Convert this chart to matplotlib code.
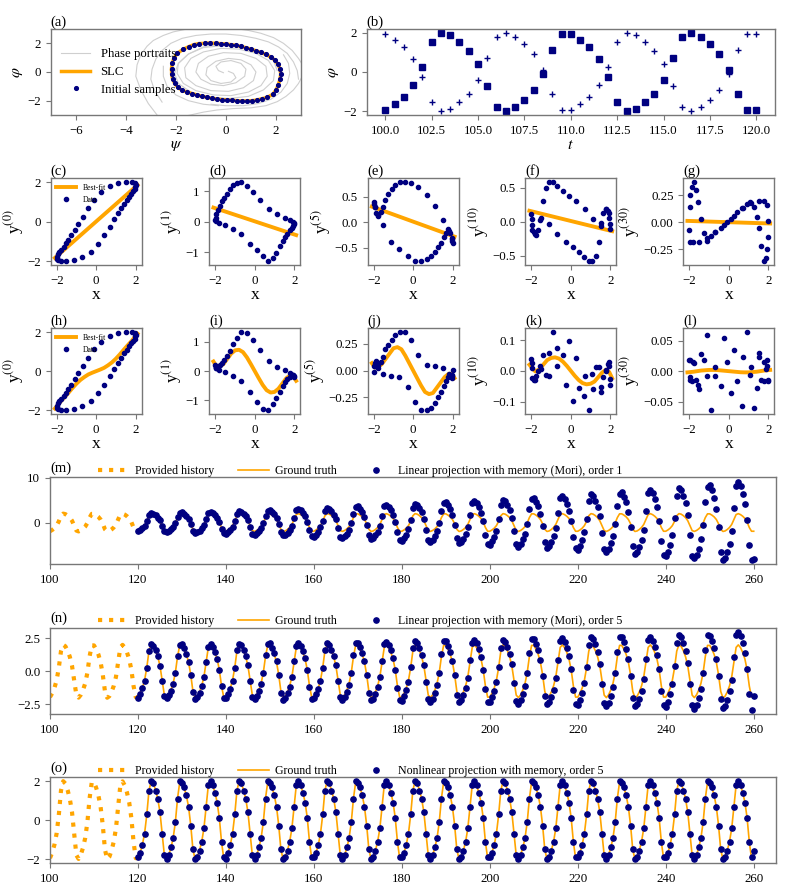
import numpy as np
import matplotlib
matplotlib.use("Agg")
import matplotlib.pyplot as plt

plt.rcParams["font.family"] = ["Liberation Serif", "DejaVu Serif"]
plt.rcParams["mathtext.fontset"] = "stix"
plt.rcParams["axes.edgecolor"] = "#777777"
plt.rcParams["axes.linewidth"] = 1.0
plt.rcParams["xtick.color"] = "#777777"
plt.rcParams["ytick.color"] = "#777777"
plt.rcParams["xtick.labelcolor"] = "black"
plt.rcParams["ytick.labelcolor"] = "black"
plt.rcParams["xtick.labelsize"] = 9.3
plt.rcParams["ytick.labelsize"] = 9.3

NAVY = "#000080"
ORANGE = "#FFA500"
GREY = "#cfcfcf"

# ---------------- (a) phase plane ----------------
slc_psi = [-2.17, -2.15, -2.08, -1.95, -1.71, -1.48, -1.28, -1.08, -0.85, -0.64, -0.41, -0.21, 0.00,
           0.19, 0.39, 0.59, 0.79, 0.99, 1.19, 1.39, 1.59, 1.79, 1.95, 2.08, 2.16, 2.19, 2.16, 2.09,
           2.00, 1.87, 1.65, 1.45, 1.25, 1.05, 0.85, 0.65, 0.45, 0.25, 0.05, -0.15, -0.35, -0.55,
           -0.75, -0.95, -1.15, -1.35, -1.55, -1.75, -1.92, -2.05, -2.13, -2.17]
slc_phi = [0.21, 0.60, 0.95, 1.30, 1.58, 1.77, 1.91, 1.98, 2.00, 2.02, 2.00, 1.98, 1.95, 1.91, 1.86,
           1.79, 1.70, 1.60, 1.49, 1.37, 1.23, 1.05, 0.84, 0.53, 0.21, -0.14, -0.51, -0.91, -1.26,
           -1.56, -1.77, -1.86, -1.95, -2.00, -2.02, -2.02, -2.00, -1.98, -1.95, -1.93, -1.88, -1.84,
           -1.77, -1.70, -1.60, -1.51, -1.40, -1.28, -1.07, -0.79, -0.49, -0.14]

pp1_psi = [-2.75, -3.1, -3.4, -3.6, -3.55, -3.4, -3.15, -2.9, -2.5, -2.1, -1.55, -0.9]
pp1_phi = [-3.0, -2.2, -1.25, -0.3, 0.5, 1.2, 1.8, 2.2, 2.55, 2.8, 3.0, 3.1]
pp2_psi = [-2.55, -2.85, -3.0, -2.95, -2.8, -2.55, -2.2, -1.75, -1.2, -0.6, 0.0, 0.6, 1.2, 1.7,
           2.1, 2.45, 2.7, 2.85, 2.9]
pp2_phi = [-2.1, -1.3, -0.5, 0.2, 0.9, 1.5, 2.0, 2.35, 2.55, 2.65, 2.65, 2.55, 2.35, 2.1, 1.75,
           1.3, 0.7, 0.1, -0.5]
pp3_psi = [0.3, 0.9, 1.4, 1.9, 2.3, 2.65, 2.9, 3.1]
pp3_phi = [3.05, 2.9, 2.7, 2.4, 2.0, 1.5, 0.95, 0.4]
pp4_psi = [-1.55, -0.9, -0.35, 0.3, 1.0, 1.6, 2.05, 2.4, 2.7, 2.9, 3.05]
pp4_phi = [-3.05, -2.8, -2.65, -2.55, -2.5, -2.35, -2.07, -1.7, -1.25, -0.8, -0.3]
pp5_psi = [-0.3, -0.9, -1.5, -2.0, -2.35, -2.5, -2.5]
pp5_phi = [-2.35, -2.25, -2.0, -1.6, -1.0, -0.3, 0.4]
pp6_psi = [2.3, 2.5, 2.55, 2.45, 2.2, 1.8, 1.3, 0.7, 0.0, -0.6]
pp6_phi = [1.2, 0.6, -0.1, -0.8, -1.4, -1.9, -2.2, -2.35, -2.35, -2.25]
pp7_psi = [0.1, 0.3, 0.4, 0.2, -0.2, -0.6, -0.8, -0.75, -0.4, 0.1, 0.6, 1.0, 1.2, 1.1, 0.7, 0.1,
           -0.6, -1.2, -1.6, -1.65, -1.4, -0.9, -0.2, 0.5, 1.2, 1.7, 1.95, 1.9, 1.5, 0.9, 0.1,
           -0.7, -1.4, -1.9, -2.05, -1.9, -1.5, -0.9, -0.2]
pp7_phi = [0.05, -0.1, -0.4, -0.7, -0.8, -0.6, -0.2, 0.3, 0.75, 0.95, 0.85, 0.5, 0.0, -0.6, -1.1,
           -1.35, -1.3, -0.95, -0.4, 0.3, 0.95, 1.4, 1.65, 1.6, 1.3, 0.8, 0.1, -0.6, -1.25, -1.7,
           -1.85, -1.75, -1.4, -0.8, -0.1, 0.6, 1.25, 1.75, 1.95]
pp8_psi = [-0.1, -0.3, -0.4, -0.2, 0.2, 0.6, 0.8, 0.75, 0.4, -0.1, -0.6, -1.0, -1.2, -1.1, -0.7,
           -0.1, 0.6, 1.2, 1.6, 1.65, 1.4, 0.9, 0.2, -0.5, -1.2, -1.7, -1.95, -1.9, -1.5, -0.9,
           -0.1, 0.7, 1.4, 1.9, 2.05]
pp8_phi = [-0.05, 0.1, 0.4, 0.7, 0.8, 0.6, 0.2, -0.3, -0.75, -0.95, -0.85, -0.5, 0.0, 0.6, 1.1,
           1.35, 1.3, 0.95, 0.4, -0.3, -0.95, -1.4, -1.65, -1.6, -1.3, -0.8, -0.1, 0.6, 1.25,
           1.7, 1.85, 1.75, 1.4, 0.8, 0.1]
portraits = [(pp1_psi, pp1_phi), (pp2_psi, pp2_phi), (pp3_psi, pp3_phi), (pp4_psi, pp4_phi),
             (pp5_psi, pp5_phi), (pp6_psi, pp6_phi), (pp7_psi, pp7_phi), (pp8_psi, pp8_phi)]

# ---------------- (b) and history ----------------
t_hist = np.arange(100, 120.01, 0.5)
history_phi = [-1.95, -1.66, -1.27, -0.69, 0.26, 1.52, 2.00, 1.88, 1.55, 1.10, 0.42, -0.70, -1.80,
               -1.99, -1.78, -1.42, -0.92, -0.11, 1.12, 1.95, 1.95, 1.66, 1.27, 0.69, -0.26, -1.52,
               -2.00, -1.88, -1.55, -1.10, -0.42, 0.70, 1.80, 1.99, 1.78, 1.42, 0.92, 0.11, -1.12,
               -1.95, -1.95]
phi_plus = [1.95, 1.66, 1.27, 0.69, -0.26, -1.52, -2.00, -1.88, -1.55, -1.10, -0.42, 0.70, 1.80,
            1.99, 1.78, 1.42, 0.92, 0.11, -1.12, -1.95, -1.95, -1.66, -1.27, -0.69, 0.26, 1.52,
            2.00, 1.88, 1.55, 1.10, 0.42, -0.70, -1.80, -1.99, -1.78, -1.42, -0.92, -0.11, 1.12,
            1.95, 1.95]

# ---------------- (c)-(l) projections ----------------
x_samples = [2.00, 1.99, 1.95, 1.88, 1.78, 1.66, 1.55, 1.42, 1.27, 1.10, 0.92, 0.69, 0.42, 0.11,
             -0.26, -0.70, -1.12, -1.52, -1.80, -1.95, -2.00, -1.99, -1.95, -1.88, -1.78, -1.66,
             -1.55, -1.42, -1.27, -1.10, -0.92, -0.69, -0.42, -0.11, 0.26, 0.70, 1.12, 1.52,
             1.80, 1.95]
y0_data = [1.88, 1.78, 1.66, 1.55, 1.42, 1.27, 1.10, 0.92, 0.69, 0.42, 0.11, -0.26, -0.70, -1.12,
           -1.52, -1.80, -1.95, -2.00, -1.99, -1.95, -1.88, -1.78, -1.66, -1.55, -1.42, -1.27,
           -1.10, -0.92, -0.69, -0.42, -0.11, 0.26, 0.70, 1.12, 1.52, 1.80, 1.95, 2.00, 1.99, 1.95]
y1_lin = [-0.03, -0.08, -0.13, -0.20, -0.28, -0.39, -0.50, -0.63, -0.81, -1.01, -1.19, -1.29,
          -1.13, -0.93, -0.72, -0.42, -0.23, -0.10, -0.03, 0.01, 0.05, 0.12, 0.24, 0.37, 0.51,
          0.66, 0.78, 0.91, 1.06, 1.19, 1.27, 1.29, 1.17, 0.98, 0.71, 0.43, 0.25, 0.11, 0.05, -0.01]
y5_lin = [-0.41, -0.36, -0.30, -0.20, -0.12, -0.20, -0.29, -0.40, -0.48, -0.58, -0.66, -0.72,
          -0.75, -0.76, -0.66, -0.52, -0.38, -0.05, 0.15, 0.30, 0.41, 0.36, 0.30, 0.18, 0.13,
          0.20, 0.31, 0.45, 0.55, 0.66, 0.74, 0.79, 0.79, 0.77, 0.69, 0.54, 0.32, 0.05, -0.17, -0.32]
y10_lin = [-0.11, -0.04, 0.05, 0.15, 0.19, 0.12, -0.02, -0.30, -0.50, -0.58, -0.58, -0.52, -0.45,
           -0.38, -0.30, -0.18, -0.04, 0.06, -0.18, -0.12, 0.11, 0.04, -0.05, -0.15, -0.19, -0.12,
           0.02, 0.30, 0.50, 0.58, 0.58, 0.52, 0.45, 0.38, 0.30, 0.18, 0.04, -0.06, 0.18, 0.12]
y30_lin = [0.01, -0.14, -0.25, -0.33, -0.36, -0.22, -0.05, 0.05, 0.14, 0.19, 0.17, 0.13, 0.09,
           0.03, -0.03, -0.09, -0.15, -0.18, -0.18, -0.18, -0.07, 0.14, 0.25, 0.33, 0.37, 0.30,
           0.19, 0.03, -0.10, -0.17, -0.13, -0.09, -0.05, 0.00, 0.06, 0.13, 0.18, 0.20, 0.20, 0.16]
y1_nl = [-0.20, -0.15, -0.12, -0.14, -0.20, -0.28, -0.38, -0.52, -0.70, -0.92, -1.12, -1.33,
         -1.30, -1.05, -0.71, -0.35, -0.15, -0.03, 0.05, 0.12, 0.20, 0.15, 0.12, 0.14, 0.20, 0.28,
         0.38, 0.52, 0.70, 0.92, 1.12, 1.33, 1.30, 1.05, 0.71, 0.35, 0.15, 0.03, -0.05, -0.12]
y5_nl = [0.01, -0.04, -0.07, -0.05, -0.06, -0.10, -0.14, -0.20, -0.25, -0.30, -0.35, -0.37, -0.37,
         -0.29, -0.15, -0.06, -0.05, -0.03, 0.02, 0.04, -0.01, 0.04, 0.07, 0.09, 0.05, 0.08, 0.13,
         0.20, 0.24, 0.29, 0.33, 0.36, 0.36, 0.29, 0.15, 0.05, 0.04, 0.02, -0.03, -0.05]
y10_nl = [-0.045, -0.027, 0.030, 0.022, 0.003, -0.020, -0.052, 0.012, 0.011, -0.010, -0.128,
          -0.082, -0.056, -0.098, -0.045, 0.016, -0.016, 0.005, -0.030, 0.010, 0.040, 0.025,
          -0.024, -0.029, -0.018, -0.002, 0.016, 0.051, -0.013, 0.057, 0.126, 0.075, 0.053,
          0.096, 0.043, -0.018, -0.059, -0.070, 0.001, 0.017]
y30_nl = [-0.017, -0.015, 0.018, 0.004, 0.015, -0.015, 0.024, -0.028, -0.061, -0.007, 0.064,
          -0.057, -0.016, -0.036, 0.055, 0.007, 0.060, -0.030, 0.015, 0.018, 0.019, -0.009,
          -0.015, -0.016, 0.014, -0.014, -0.023, 0.028, 0.018, -0.008, -0.064, -0.008, -0.025,
          0.015, 0.034, 0.024, 0.007, 0.029, -0.016, 0.008]

fit_x = [-2.1, 2.1]
fit_c = [-1.84, 1.86]
fit_d = [0.46, -0.44]
fit_e = [0.31, -0.28]
fit_f = [0.16, -0.14]
fit_g = [0.012, -0.012]

curve_x = [-2.1, -1.95, -1.8, -1.6, -1.4, -1.2, -1.0, -0.8, -0.6, -0.4, -0.2, 0.0, 0.2, 0.4, 0.6,
           0.8, 1.0, 1.2, 1.4, 1.6, 1.8, 1.95, 2.1]
curve_h = [-1.92, -1.74, -1.55, -1.33, -1.10, -0.86, -0.64, -0.45, -0.30, -0.17, -0.08, 0.0, 0.08,
           0.17, 0.30, 0.45, 0.64, 0.86, 1.10, 1.33, 1.55, 1.74, 1.92]
curve_i = [0.33, 0.17, 0.14, 0.24, 0.42, 0.60, 0.71, 0.73, 0.65, 0.47, 0.24, 0.0, -0.24, -0.47,
           -0.65, -0.73, -0.71, -0.60, -0.42, -0.24, -0.14, -0.17, -0.33]
curve_j = [0.07, 0.03, 0.03, 0.06, 0.11, 0.16, 0.21, 0.22, 0.20, 0.14, 0.07, 0.0, -0.07, -0.14,
           -0.20, -0.22, -0.21, -0.16, -0.11, -0.06, -0.03, -0.03, -0.07]
curve_k = [0.020, 0.008, -0.002, 0.005, 0.020, 0.035, 0.042, 0.044, 0.040, 0.030, 0.016, 0.0,
           -0.016, -0.030, -0.040, -0.044, -0.042, -0.035, -0.020, -0.005, 0.004, -0.004, -0.024]
curve_l = [-0.002, -0.0015, -0.001, 0.0, 0.001, 0.0015, 0.002, 0.002, 0.0018, 0.0012, 0.0006, 0.0,
           -0.0006, -0.0012, -0.0018, -0.002, -0.002, -0.0015, -0.001, 0.0, 0.001, 0.0015, 0.002]

# ---------------- (m)-(o) forecasts, t = 120 ... 260 ----------------
t_future = np.arange(120, 260.01, 0.5)
truth_phi = [
    -1.95, -1.66, -1.27, -0.69, 0.26, 1.52, 2.00, 1.88, 1.55, 1.10, 0.42, -0.70, -1.80, -1.99, -1.78, -1.42, -0.92, -0.11, 1.12, 1.95,
    1.95, 1.66, 1.27, 0.69, -0.26, -1.52, -2.00, -1.88, -1.55, -1.10, -0.42, 0.70, 1.80, 1.99, 1.78, 1.42, 0.92, 0.11, -1.12, -1.95,
    -1.95, -1.66, -1.27, -0.69, 0.26, 1.52, 2.00, 1.88, 1.55, 1.10, 0.42, -0.70, -1.80, -1.99, -1.78, -1.42, -0.92, -0.11, 1.12, 1.95,
    1.95, 1.66, 1.27, 0.69, -0.26, -1.52, -2.00, -1.88, -1.55, -1.10, -0.42, 0.70, 1.80, 1.99, 1.78, 1.42, 0.92, 0.11, -1.12, -1.95,
    -1.95, -1.66, -1.27, -0.69, 0.26, 1.52, 2.00, 1.88, 1.55, 1.10, 0.42, -0.70, -1.80, -1.99, -1.78, -1.42, -0.92, -0.11, 1.12, 1.95,
    1.95, 1.66, 1.27, 0.69, -0.26, -1.52, -2.00, -1.88, -1.55, -1.10, -0.42, 0.70, 1.80, 1.99, 1.78, 1.42, 0.92, 0.11, -1.12, -1.95,
    -1.95, -1.66, -1.27, -0.69, 0.26, 1.52, 2.00, 1.88, 1.55, 1.10, 0.42, -0.70, -1.80, -1.99, -1.78, -1.42, -0.92, -0.11, 1.12, 1.95,
    1.95, 1.66, 1.27, 0.69, -0.26, -1.52, -2.00, -1.88, -1.55, -1.10, -0.42, 0.70, 1.80, 1.99, 1.78, 1.42, 0.92, 0.11, -1.12, -1.95,
    -1.95, -1.66, -1.27, -0.69, 0.26, 1.52, 2.00, 1.88, 1.55, 1.10, 0.42, -0.70, -1.80, -1.99, -1.78, -1.42, -0.92, -0.11, 1.12, 1.95,
    1.95, 1.66, 1.27, 0.69, -0.26, -1.52, -2.00, -1.88, -1.55, -1.10, -0.42, 0.70, 1.80, 1.99, 1.78, 1.42, 0.92, 0.11, -1.12, -1.95,
    -1.95, -1.66, -1.27, -0.69, 0.26, 1.52, 2.00, 1.88, 1.55, 1.10, 0.42, -0.70, -1.80, -1.99, -1.78, -1.42, -0.92, -0.11, 1.12, 1.95,
    1.95, 1.66, 1.27, 0.69, -0.26, -1.52, -2.00, -1.88, -1.55, -1.10, -0.42, 0.70, 1.80, 1.99, 1.78, 1.42, 0.92, 0.11, -1.12, -1.95,
    -1.95, -1.66, -1.27, -0.69, 0.26, 1.52, 2.00, 1.88, 1.55, 1.10, 0.42, -0.70, -1.80, -1.99, -1.78, -1.42, -0.92, -0.11, 1.12, 1.95,
    1.95, 1.66, 1.27, 0.69, -0.26, -1.52, -2.00, -1.88, -1.55, -1.10, -0.42, 0.70, 1.80, 1.99, 1.78, 1.42, 0.92, 0.11, -1.12, -1.95,
    -1.95]
pred_mori1 = [
    -2.0, -1.7, -1.3, -0.7, 0.3, 1.6, 2.1, 1.9, 1.6, 1.1, 0.5, -0.8, -2.0, -2.2, -1.9, -1.5, -1.0, -0.1, 1.2, 2.1,
    2.3, 1.9, 1.5, 0.8, -0.3, -1.8, -2.3, -2.2, -1.8, -1.3, -0.5, 0.9, 2.2, 2.4, 2.2, 1.7, 1.1, 0.1, -1.4, -2.4,
    -2.5, -2.1, -1.6, -0.9, 0.3, 2.0, 2.6, 2.4, 2.0, 1.4, 0.6, -1.0, -2.5, -2.7, -2.4, -2.0, -1.3, -0.2, 1.5, 2.7,
    2.9, 2.4, 1.9, 1.0, -0.4, -2.2, -2.9, -2.8, -2.3, -1.6, -0.7, 1.1, 2.8, 3.1, 2.8, 2.2, 1.4, 0.2, -1.7, -3.0,
    -3.2, -2.7, -2.1, -1.1, 0.4, 2.5, 3.3, 3.1, 2.6, 1.8, 0.7, -1.2, -3.2, -3.5, -3.1, -2.5, -1.6, -0.2, 2.0, 3.4,
    3.7, 3.1, 2.4, 1.3, -0.5, -2.9, -3.8, -3.5, -2.9, -2.1, -0.8, 1.4, 3.6, 4.0, 3.5, 2.8, 1.8, 0.2, -2.2, -3.9,
    -4.1, -3.5, -2.7, -1.4, 0.5, 3.2, 4.2, 3.9, 3.3, 2.3, 0.9, -1.6, -4.0, -4.4, -3.9, -3.1, -2.0, -0.2, 2.5, 4.3,
    4.5, 3.9, 3.0, 1.6, -0.6, -3.5, -4.7, -4.4, -3.6, -2.6, -1.0, 1.7, 4.4, 4.9, 4.3, 3.5, 2.2, 0.3, -2.7, -4.8,
    -5.0, -4.2, -3.3, -1.8, 0.7, 3.9, 5.1, 4.8, 4.0, 2.8, 1.1, -1.9, -4.9, -5.4, -4.8, -3.8, -2.5, -0.3, 3.0, 5.3,
    5.5, 4.7, 3.6, 2.0, -0.7, -4.3, -5.7, -5.3, -4.4, -3.1, -1.2, 2.1, 5.4, 5.9, 5.3, 4.2, 2.7, 0.3, -3.3, -5.8,
    -6.1, -5.2, -4.0, -2.2, 0.8, 4.8, 6.3, 5.9, 4.9, 3.4, 1.4, -2.3, -6.0, -6.6, -5.9, -4.7, -3.1, -0.4, 3.7, 6.5,
    6.8, 5.8, 4.5, 2.4, -0.9, -5.3, -7.0, -6.6, -5.4, -3.9, -1.6, 2.6, 6.7, 7.4, 6.6, 5.2, 3.4, 0.4, -4.1, -7.2,
    -7.6, -6.5, -5.0, -2.7, 1.0, 5.9, 7.8, 7.3, 6.0, 4.3, 1.7, -2.9, -7.4, -8.0, -7.3, -5.9, -3.8, -0.5, 4.6, 8.0,
    8.5, 7.2, 5.5, 3.0, -1.1, -6.6, -8.5, -8.0, -6.7, -4.8, -1.9, 3.2, 8.2, 9.1, 8.1, 6.5, 4.2, 0.5, -5.1, -8.4,
    -8.2]
pred_mori5 = [
    -1.99, -1.69, -1.30, -0.70, 0.27, 1.55, 2.04, 1.92, 1.58, 1.12, 0.43, -0.72, -1.85, -2.05, -1.83, -1.46, -0.95, -0.11, 1.15, 2.01,
    2.03, 1.73, 1.32, 0.72, -0.27, -1.58, -2.08, -1.96, -1.61, -1.14, -0.43, 0.72, 1.85, 2.05, 1.83, 1.46, 0.95, 0.11, -1.15, -2.01,
    -2.03, -1.73, -1.32, -0.72, 0.27, 1.58, 2.08, 1.96, 1.61, 1.14, 0.45, -0.74, -1.91, -2.11, -1.89, -1.51, -0.98, -0.12, 1.19, 2.07,
    2.11, 1.79, 1.37, 0.75, -0.28, -1.64, -2.16, -2.03, -1.67, -1.19, -0.45, 0.74, 1.91, 2.11, 1.89, 1.51, 0.98, 0.12, -1.19, -2.07,
    -2.05, -1.74, -1.33, -0.72, 0.27, 1.60, 2.10, 1.97, 1.63, 1.16, 0.46, -0.77, -1.98, -2.19, -1.96, -1.56, -1.01, -0.12, 1.23, 2.15,
    2.15, 1.83, 1.40, 0.76, -0.29, -1.67, -2.20, -2.07, -1.71, -1.21, -0.47, 0.78, 2.02, 2.23, 1.99, 1.59, 1.03, 0.12, -1.25, -2.18,
    -2.22, -1.89, -1.45, -0.79, 0.30, 1.73, 2.28, 2.14, 1.77, 1.25, 0.49, -0.81, -2.09, -2.31, -2.06, -1.65, -1.07, -0.13, 1.30, 2.26,
    2.28, 1.94, 1.49, 0.81, -0.30, -1.78, -2.34, -2.20, -1.81, -1.29, -0.50, 0.83, 2.14, 2.37, 2.12, 1.69, 1.09, 0.13, -1.33, -2.32,
    -2.30, -1.96, -1.50, -0.81, 0.31, 1.79, 2.36, 2.22, 1.83, 1.30, 0.52, -0.86, -2.21, -2.45, -2.19, -1.75, -1.13, -0.14, 1.38, 2.40,
    2.44, 2.08, 1.59, 0.86, -0.33, -1.90, -2.50, -2.35, -1.94, -1.38, -0.53, 0.88, 2.25, 2.49, 2.23, 1.78, 1.15, 0.14, -1.40, -2.44,
    -2.54, -2.16, -1.65, -0.90, 0.34, 1.98, 2.60, 2.44, 2.02, 1.43, 0.56, -0.93, -2.39, -2.65, -2.37, -1.89, -1.22, -0.15, 1.49, 2.59,
    2.59, 2.21, 1.69, 0.92, -0.35, -2.02, -2.66, -2.50, -2.06, -1.46, -0.55, 0.91, 2.34, 2.59, 2.31, 1.85, 1.20, 0.14, -1.46, -2.54,
    -2.69, -2.29, -1.75, -0.95, 0.36, 2.10, 2.76, 2.59, 2.14, 1.52, 0.60, -0.99, -2.56, -2.83, -2.53, -2.02, -1.31, -0.16, 1.59, 2.77,
    2.69, 2.29, 1.75, 0.95, -0.36, -2.10, -2.76, -2.59, -2.14, -1.52, -0.63, 1.05, 2.70, 2.99, 2.67, 2.13, 1.38, 0.17, -1.68, -2.93,
    -1.90]
pred_nonlin5 = [
    -1.9, -1.7, -1.3, -0.7, 0.3, 1.5, 2.0, 1.9, 1.5, 1.1, 0.4, -0.7, -1.8, -2.0, -1.8, -1.4, -0.9, -0.1, 1.1, 2.0,
    1.9, 1.7, 1.3, 0.7, -0.3, -1.5, -2.0, -1.9, -1.6, -1.1, -0.4, 0.7, 1.8, 2.0, 1.8, 1.4, 0.9, 0.1, -1.1, -1.9,
    -2.0, -1.7, -1.3, -0.7, 0.3, 1.5, 2.0, 1.9, 1.5, 1.1, 0.4, -0.7, -1.8, -2.0, -1.8, -1.4, -0.9, -0.1, 1.1, 2.0,
    1.9, 1.7, 1.3, 0.7, -0.3, -1.5, -2.0, -1.9, -1.6, -1.1, -0.4, 0.7, 1.8, 2.0, 1.8, 1.4, 0.9, 0.1, -1.1, -1.9,
    -1.9, -1.7, -1.3, -0.7, 0.3, 1.5, 2.0, 1.9, 1.5, 1.1, 0.4, -0.7, -1.8, -2.0, -1.8, -1.4, -0.9, -0.1, 1.1, 2.0,
    1.9, 1.7, 1.3, 0.7, -0.3, -1.5, -2.0, -1.9, -1.6, -1.1, -0.4, 0.7, 1.8, 2.0, 1.8, 1.4, 0.9, 0.1, -1.1, -1.9,
    -1.9, -1.7, -1.3, -0.7, 0.3, 1.5, 2.0, 1.9, 1.5, 1.1, 0.4, -0.7, -1.8, -2.0, -1.8, -1.4, -0.9, -0.1, 1.1, 2.0,
    1.9, 1.7, 1.3, 0.7, -0.3, -1.5, -2.0, -1.9, -1.6, -1.1, -0.4, 0.7, 1.8, 2.0, 1.8, 1.4, 0.9, 0.1, -1.1, -1.9,
    -1.9, -1.7, -1.3, -0.7, 0.3, 1.5, 2.0, 1.9, 1.5, 1.1, 0.4, -0.7, -1.8, -2.0, -1.8, -1.4, -0.9, -0.1, 1.1, 2.0,
    1.9, 1.7, 1.3, 0.7, -0.3, -1.5, -2.0, -1.9, -1.6, -1.1, -0.4, 0.7, 1.8, 2.0, 1.8, 1.4, 0.9, 0.1, -1.1, -1.9,
    -1.9, -1.7, -1.3, -0.7, 0.3, 1.5, 2.0, 1.9, 1.5, 1.1, 0.4, -0.7, -1.8, -2.0, -1.8, -1.4, -0.9, -0.1, 1.1, 2.0,
    1.9, 1.7, 1.3, 0.7, -0.3, -1.5, -2.0, -1.9, -1.6, -1.1, -0.4, 0.7, 1.8, 2.0, 1.8, 1.4, 0.9, 0.1, -1.1, -1.9,
    -1.9, -1.7, -1.3, -0.7, 0.3, 1.5, 2.0, 1.9, 1.5, 1.1, 0.4, -0.7, -1.8, -2.0, -1.8, -1.4, -0.9, -0.1, 1.1, 2.0,
    1.9, 1.7, 1.3, 0.7, -0.3, -1.5, -2.0, -1.9, -1.6, -1.1, -0.4, 0.7, 1.8, 2.0, 1.8, 1.4, 0.9, 0.1, -1.1, -1.9,
    -1.6]

# ---------------- layout ----------------
W, H = 789, 893
fig = plt.figure(figsize=(W / 100, H / 100), dpi=100)


def add_ax(left, top, right, bottom):
    return fig.add_axes([left / W, 1 - bottom / H, (right - left) / W, (bottom - top) / H])


def tag(ax, s):
    ax.set_title(s, loc="left", fontsize=10.5, pad=2.5)


# (a)
ax = add_ax(50.7, 29, 301, 115)
for i, (ps, ph) in enumerate(portraits):
    ax.plot(ps, ph, color=GREY, lw=0.8, label="Phase portraits" if i == 0 else None)
ax.plot(slc_psi + slc_psi[:1], slc_phi + slc_phi[:1], color=ORANGE, lw=2.5, label="SLC")
ax.plot(slc_psi, slc_phi, "o", color=NAVY, ms=2.7, label="Initial samples")
ax.set_xlim(-7, 3)
ax.set_ylim(-3, 3)
ax.set_xticks([-6, -4, -2, 0, 2])
ax.set_yticks([-2, 0, 2])
ax.set_xlabel(r"$\psi$", fontsize=11.5, labelpad=0)
ax.set_ylabel(r"$\varphi$", fontsize=11.5, labelpad=2)
ax.legend(loc="center left", frameon=False, fontsize=9.2, handlelength=2.3,
          borderaxespad=0.4, labelspacing=0.45)
tag(ax, "(a)")

# (b)
ax = add_ax(366.7, 29, 775, 115)
ax.plot(t_hist, phi_plus, "+", color=NAVY, ms=4.8, mew=1.0)
ax.plot(t_hist, history_phi, "s", color=NAVY, ms=3.8)
ax.set_xticks(np.arange(100, 120.1, 2.5))
ax.set_yticks([-2, 0, 2])
ax.set_xlabel(r"$t$", fontsize=11.5, labelpad=0)
ax.set_ylabel(r"$\varphi$", fontsize=11.5, labelpad=2)
tag(ax, "(b)")

col_left = [50.7, 209.3, 367.7, 525.3, 683.3]
col_w = 91

row_lin = [("(c)", y0_data, fit_c, "y$^{(0)}$", [-2, 0, 2]),
           ("(d)", y1_lin, fit_d, "y$^{(1)}$", [-1, 0, 1]),
           ("(e)", y5_lin, fit_e, "y$^{(5)}$", [-0.5, 0, 0.5]),
           ("(f)", y10_lin, fit_f, "y$^{(10)}$", [-0.5, 0, 0.5]),
           ("(g)", y30_lin, fit_g, "y$^{(30)}$", [-0.25, 0, 0.25])]
row_nl = [("(h)", y0_data, curve_h, "y$^{(0)}$", [-2, 0, 2]),
          ("(i)", y1_nl, curve_i, "y$^{(1)}$", [-1, 0, 1]),
          ("(j)", y5_nl, curve_j, "y$^{(5)}$", [-0.25, 0, 0.25]),
          ("(k)", y10_nl, curve_k, "y$^{(10)}$", [-0.1, 0, 0.1]),
          ("(l)", y30_nl, curve_l, "y$^{(30)}$", [-0.05, 0, 0.05])]

for (top, bottom), rows, fx in [((178.3, 265), row_lin, fit_x), ((328.3, 414), row_nl, curve_x)]:
    for i, (lab, ydat, yfit, ylab, yt) in enumerate(rows):
        ax = add_ax(col_left[i], top, col_left[i] + col_w, bottom)
        ax.plot(fx, yfit, color=ORANGE, lw=2.8, label="Best-fit")
        ax.plot(x_samples, ydat, "o", color=NAVY, ms=3.0, label="Data")
        ax.set_xticks([-2, 0, 2])
        ax.set_yticks(yt)
        ax.set_xlabel("x", fontsize=12.5, labelpad=0)
        ax.set_ylabel(ylab, fontsize=12.5, labelpad=1)
        tag(ax, lab)
        if i == 0:
            ax.legend(loc="upper left", frameon=False, fontsize=5.6, handlelength=2.6,
                      borderaxespad=0.3, labelspacing=0.5)

# (m)-(o)
forecast = [("(m)", pred_mori1, "Linear projection with memory (Mori), order 1", 477.3, 564, [0, 10]),
            ("(n)", pred_mori5, "Linear projection with memory (Mori), order 5", 627.7, 714, [-2.5, 0, 2.5]),
            ("(o)", pred_nonlin5, "Nonlinear projection with memory, order 5", 777.3, 863, [-2, 0, 2])]
for lab, pred, name, top, bottom, yt in forecast:
    ax = add_ax(50, top, 775.7, bottom)
    ax.plot(t_hist, history_phi, ls=":", lw=3, color=ORANGE, label="Provided history")
    ax.plot(t_future, truth_phi, "-", lw=1.2, color=ORANGE, label="Ground truth")
    ax.plot(t_future, pred, "o", ms=3.8, color=NAVY, label=name)
    ax.set_xlim(100, 265)
    ax.set_xticks(np.arange(100, 261, 20))
    ax.set_yticks(yt)
    if lab == "(m)":
        ax.set_ylim(-9.3, 10.15)
    ax.text(0, 1.03, lab, transform=ax.transAxes, fontsize=10.5, va="bottom", ha="left")
    ax.legend(loc="lower left", bbox_to_anchor=(0.0645, 0.99), ncol=3, frameon=False,
              fontsize=8.6, handlelength=2.6, columnspacing=2.0, borderpad=0.1,
              handletextpad=0.5, borderaxespad=0.0)

fig.savefig("out.png", dpi=100)
